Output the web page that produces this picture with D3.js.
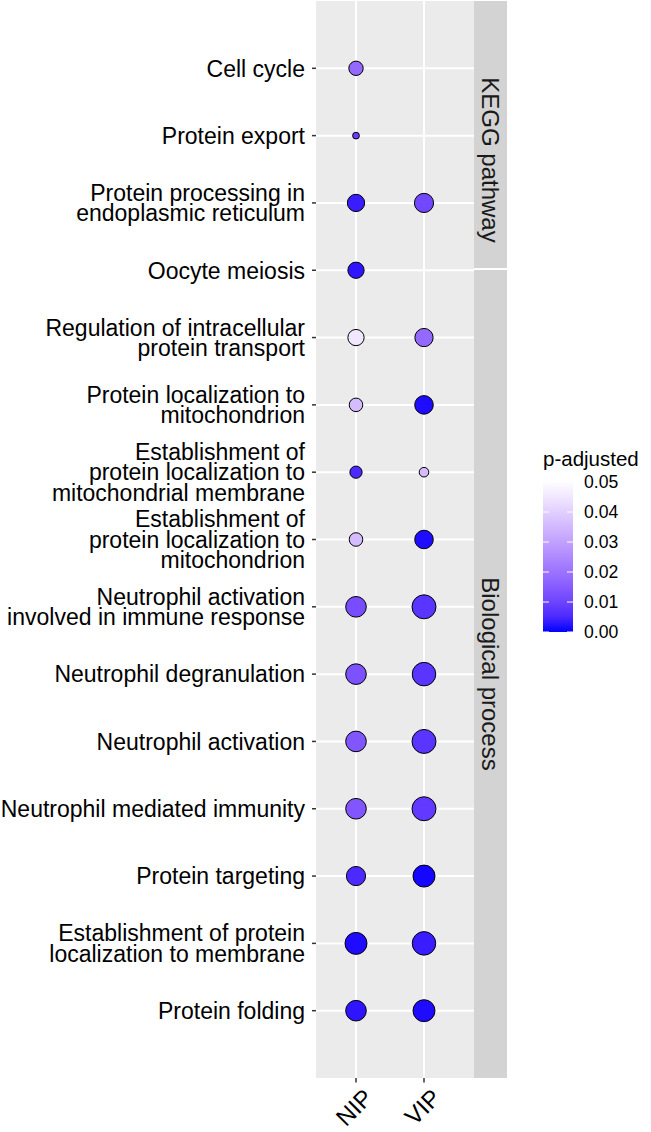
<!DOCTYPE html>
<html lang="en">
  <head>
    <meta charset="UTF-8" />
    <title>Enrichment dot plot</title>
    <script src="https://cdn.jsdelivr.net/npm/d3@7/dist/d3.min.js"></script>
    <style>
      body {
        margin: 0;
        background: #fff;
      }
      text {
        font-family: "Liberation Sans", Arial, sans-serif;
      }
    </style>
  </head>
  <body>
    <svg width="651" height="1132"></svg>
    <script>
      const svg = d3.select("svg");

      // terms top to bottom, lines as they are wrapped on the axis
      const terms = [
        ["Cell cycle"],
        ["Protein export"],
        ["Protein processing in", "endoplasmic reticulum"],
        ["Oocyte meiosis"],
        ["Regulation of intracellular", "protein transport"],
        ["Protein localization to", "mitochondrion"],
        ["Establishment of", "protein localization to", "mitochondrial membrane"],
        ["Establishment of", "protein localization to", "mitochondrion"],
        ["Neutrophil activation", "involved in immune response"],
        ["Neutrophil degranulation"],
        ["Neutrophil activation"],
        ["Neutrophil mediated immunity"],
        ["Protein targeting"],
        ["Establishment of protein", "localization to membrane"],
        ["Protein folding"],
      ];
      const groups = ["NIP", "VIP"];
      const facets = ["KEGG pathway", "Biological process"];

      // gene counts (dot size) and adjusted p (dot colour), null = not enriched
      const nipCount = [18, 4, 26, 23, 23, 16, 13, 16, 37, 37, 37, 37, 32, 42, 37];
      const nipP = [0.018, 0.009, 0.003, 0.002, 0.045, 0.036, 0.005, 0.036, 0.012, 0.013, 0.014, 0.014, 0.005, 0.001, 0.002];
      const vipCount = [null, null, 32, null, 29, 30, 8, 30, 50, 48, 50, 50, 42, 48, 42];
      const vipP = [null, null, 0.011, null, 0.018, 0.001, 0.036, 0.001, 0.007, 0.007, 0.007, 0.008, 0.0005, 0.003, 0.001];

      const legendTicks = [0, 0.01, 0.02, 0.03, 0.04, 0.05];

      const points = [];
      terms.forEach((t, i) => {
        if (nipCount[i] != null)
          points.push({ term: i, group: "NIP", count: nipCount[i], p: nipP[i] });
        if (vipCount[i] != null)
          points.push({ term: i, group: "VIP", count: vipCount[i], p: vipP[i] });
      });

      const panel = { left: 316, right: 474, top: 1, bottom: 1078 };
      const strip = { left: 474, right: 507 };

      const y = d3
        .scalePoint()
        .domain(d3.range(terms.length))
        .range([panel.top, panel.bottom])
        .padding(1);
      const x = d3.scalePoint().domain(groups).range([356, 424]);
      const r = d3.scaleSqrt().domain([0, 50]).range([0, 12]);
      const color = d3
        .scaleLinear()
        .domain([0, 0.05])
        .range(["#0000ff", "#ffffff"])
        .interpolate(d3.interpolateLab);

      // panel background + grid
      svg
        .append("rect")
        .attr("x", panel.left)
        .attr("y", panel.top)
        .attr("width", panel.right - panel.left)
        .attr("height", panel.bottom - panel.top)
        .attr("fill", "#ebebeb");

      const grid = svg.append("g").attr("stroke", "#fff").attr("stroke-width", 2);
      grid
        .selectAll("line.h")
        .data(y.domain())
        .join("line")
        .attr("class", "h")
        .attr("x1", panel.left)
        .attr("x2", panel.right)
        .attr("y1", (d) => y(d))
        .attr("y2", (d) => y(d));
      grid
        .selectAll("line.v")
        .data(groups)
        .join("line")
        .attr("class", "v")
        .attr("x1", (d) => x(d))
        .attr("x2", (d) => x(d))
        .attr("y1", panel.top)
        .attr("y2", panel.bottom);

      // strips
      const stripSpans = [
        { y0: panel.top, y1: 268, mid: 160 },
        { y0: 270, y1: panel.bottom, mid: 674 },
      ];
      const strips = svg.append("g");
      strips
        .selectAll("rect")
        .data(stripSpans)
        .join("rect")
        .attr("x", strip.left)
        .attr("y", (d) => d.y0)
        .attr("width", strip.right - strip.left)
        .attr("height", (d) => d.y1 - d.y0)
        .attr("fill", "#d3d3d3");
      strips
        .selectAll("text")
        .data(stripSpans)
        .join("text")
        .attr(
          "transform",
          (d) => `translate(${(strip.left + strip.right) / 2},${d.mid}) rotate(90)`
        )
        .attr("text-anchor", "middle")
        .attr("dy", "0.35em")
        .attr("font-size", 24)
        .attr("fill", "#1a1a1a")
        .text((d, i) => facets[i]);

      // dots
      svg
        .append("g")
        .selectAll("circle")
        .data(points)
        .join("circle")
        .attr("cx", (d) => x(d.group))
        .attr("cy", (d) => y(d.term))
        .attr("r", (d) => r(d.count))
        .attr("fill", (d) => color(d.p))
        .attr("stroke", "#000")
        .attr("stroke-width", 1);

      // y axis
      const yAxis = svg.append("g");
      yAxis
        .selectAll("line")
        .data(y.domain())
        .join("line")
        .attr("x1", panel.left - 4)
        .attr("x2", panel.left)
        .attr("y1", (d) => y(d))
        .attr("y2", (d) => y(d))
        .attr("stroke", "#333")
        .attr("stroke-width", 1.5);
      const lineH = 20.5;
      yAxis
        .selectAll("text")
        .data(terms)
        .join("text")
        .attr("text-anchor", "end")
        .attr("font-size", 23)
        .attr("fill", "#000")
        .each(function (lines, i) {
          const t = d3.select(this);
          const y0 = y(i) - ((lines.length - 1) * lineH) / 2;
          lines.forEach((ln, k) => {
            t.append("tspan")
              .attr("x", 305)
              .attr("y", y0 + k * lineH)
              .attr("dy", "0.36em")
              .text(ln);
          });
        });

      // x axis
      const xAxis = svg.append("g");
      xAxis
        .selectAll("line")
        .data(groups)
        .join("line")
        .attr("x1", (d) => x(d))
        .attr("x2", (d) => x(d))
        .attr("y1", panel.bottom)
        .attr("y2", panel.bottom + 4.5)
        .attr("stroke", "#333")
        .attr("stroke-width", 1.5);
      xAxis
        .selectAll("text")
        .data(groups)
        .join("text")
        .attr("transform", (d) => `translate(${x(d) + 6},${panel.bottom + 9}) rotate(-45)`)
        .attr("text-anchor", "end")
        .attr("dy", "0.72em")
        .attr("font-size", 24)
        .attr("fill", "#000")
        .text((d) => d);

      // colour legend
      const leg = { x: 543, w: 30 };
      const ly = d3.scaleLinear().domain([0, 0.05]).range([632, 482]);
      const defs = svg.append("defs");
      const grad = defs
        .append("linearGradient")
        .attr("id", "pgrad")
        .attr("x1", 0)
        .attr("x2", 0)
        .attr("y1", 1)
        .attr("y2", 0);
      d3.range(0, 1.0001, 0.1).forEach((f) => {
        grad
          .append("stop")
          .attr("offset", f)
          .attr("stop-color", color(f * 0.0505));
      });
      svg
        .append("text")
        .attr("x", leg.x)
        .attr("y", 466)
        .attr("font-size", 20.5)
        .attr("fill", "#000")
        .text("p-adjusted");
      svg
        .append("rect")
        .attr("x", leg.x)
        .attr("y", ly(0.0505))
        .attr("width", leg.w)
        .attr("height", ly(0) - ly(0.0505))
        .attr("fill", "url(#pgrad)");
      const lt = svg.append("g");
      lt.selectAll("line.l")
        .data(legendTicks)
        .join("line")
        .attr("class", "l")
        .attr("x1", leg.x)
        .attr("x2", leg.x + 6)
        .attr("y1", (d) => ly(d))
        .attr("y2", (d) => ly(d))
        .attr("stroke", "#fff")
        .attr("stroke-width", 1);
      lt.selectAll("line.r")
        .data(legendTicks)
        .join("line")
        .attr("class", "r")
        .attr("x1", leg.x + leg.w - 6)
        .attr("x2", leg.x + leg.w)
        .attr("y1", (d) => ly(d))
        .attr("y2", (d) => ly(d))
        .attr("stroke", "#fff")
        .attr("stroke-width", 1);
      lt.selectAll("text")
        .data(legendTicks)
        .join("text")
        .attr("x", 584)
        .attr("y", (d) => ly(d))
        .attr("dy", "0.36em")
        .attr("font-size", 17.6)
        .attr("fill", "#000")
        .text((d) => d3.format(".2f")(d));
    </script>
  </body>
</html>
